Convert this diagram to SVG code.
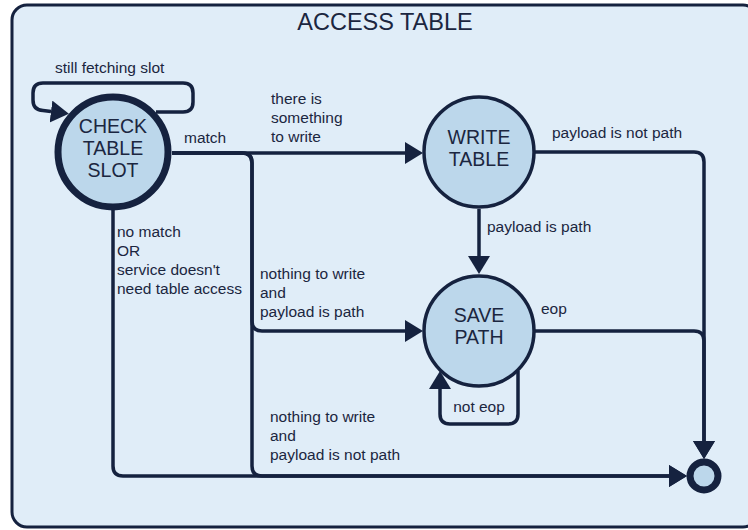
<svg xmlns="http://www.w3.org/2000/svg" width="748" height="530" viewBox="0 0 748 530">
  <style>
    .frame { fill: #e0edf8; stroke: #15223f; stroke-width: 3; }
    .state { fill: #bcd7eb; stroke: #15223f; stroke-width: 3.5; }
    .initial { stroke-width: 7; }
    .final { fill: #bcd7eb; stroke: #15223f; stroke-width: 7; }
    .edge { fill: none; stroke: #15223f; stroke-width: 3.5; stroke-linejoin: round; }
    .title { font-family: "Liberation Sans", Arial, sans-serif; font-size: 23.5px; fill: #1b2640; text-anchor: middle; }
    .name { font-family: "Liberation Sans", Arial, sans-serif; font-size: 19.5px; fill: #1b2640; text-anchor: middle; }
    .label { font-family: "Liberation Sans", Arial, sans-serif; font-size: 15.5px; fill: #1b2640; }
  </style>
  <defs>
    <marker id="arrow" markerUnits="userSpaceOnUse" markerWidth="20" markerHeight="24" refX="0" refY="11" orient="auto">
      <path d="M0,0 L18,11 L0,22 z" fill="#15223f"/>
    </marker>
  </defs>

  <!-- composite state frame -->
  <g id="access-table">
    <rect class="frame" x="12" y="5" width="746" height="522" rx="15" ry="15"/>
    <text class="title" x="385" y="30">ACCESS TABLE</text>
  </g>

  <!-- transitions -->
  <g id="connectors">
    <path class="edge" d="M156 112 H183 Q193 112 193 102 V93 Q193 83 183 83 H43 Q33 83 33 93 V100 Q33 110 43 110.5 L51 111.5" marker-end="url(#arrow)"/>
    <path class="edge" d="M172 153 H405" marker-end="url(#arrow)"/>
    <path class="edge" d="M172 153 H242 Q252 153 252 163 V321 Q252 331 262 331 H405" marker-end="url(#arrow)"/>
    <path class="edge" d="M172 153 H242 Q252 153 252 163 V466 Q252 476 262 476 H669" marker-end="url(#arrow)"/>
    <path class="edge" d="M113 210 V466 Q113 476 123 476 H669" marker-end="url(#arrow)"/>
    <path class="edge" d="M535 152 H694 Q704 152 704 162 V441" marker-end="url(#arrow)"/>
    <path class="edge" d="M479 209 V256" marker-end="url(#arrow)"/>
    <path class="edge" d="M535 331 H694 Q704 331 704 341 V441" marker-end="url(#arrow)"/>
    <path class="edge" d="M518 371 V414 Q518 424 508 424 H450 Q440 424 440 414 V389" marker-end="url(#arrow)"/>

    <text class="label" x="55" y="73">still fetching slot</text>
    <text class="label" x="184" y="143">match</text>
    <text class="label" x="271"><tspan x="271" y="104">there is</tspan><tspan x="271" y="123">something</tspan><tspan x="271" y="142">to write</tspan></text>
    <text class="label" x="117"><tspan x="117" y="237">no match</tspan><tspan x="117" y="256">OR</tspan><tspan x="117" y="275">service doesn't</tspan><tspan x="117" y="294">need table access</tspan></text>
    <text class="label" x="260"><tspan x="260" y="279">nothing to write</tspan><tspan x="260" y="298">and</tspan><tspan x="260" y="317">payload is path</tspan></text>
    <text class="label" x="270"><tspan x="270" y="422">nothing to write</tspan><tspan x="270" y="441">and</tspan><tspan x="270" y="460">payload is not path</tspan></text>
    <text class="label" x="552" y="138">payload is not path</text>
    <text class="label" x="487" y="232">payload is path</text>
    <text class="label" x="541" y="314">eop</text>
    <text class="label" x="479" y="412" text-anchor="middle">not eop</text>
  </g>

  <!-- states -->
  <g id="check-table-slot">
    <circle class="state initial" cx="113" cy="152" r="55"/>
    <text class="name"><tspan x="113" y="133">CHECK</tspan><tspan x="113" y="155">TABLE</tspan><tspan x="113" y="177">SLOT</tspan></text>
  </g>
  <g id="write-table">
    <circle class="state" cx="479" cy="152" r="55"/>
    <text class="name"><tspan x="479" y="144">WRITE</tspan><tspan x="479" y="166">TABLE</tspan></text>
  </g>
  <g id="save-path">
    <circle class="state" cx="479" cy="331" r="55"/>
    <text class="name"><tspan x="479" y="322">SAVE</tspan><tspan x="479" y="344">PATH</tspan></text>
  </g>
  <g id="final">
    <circle class="final" cx="704" cy="476" r="14"/>
  </g>
</svg>
